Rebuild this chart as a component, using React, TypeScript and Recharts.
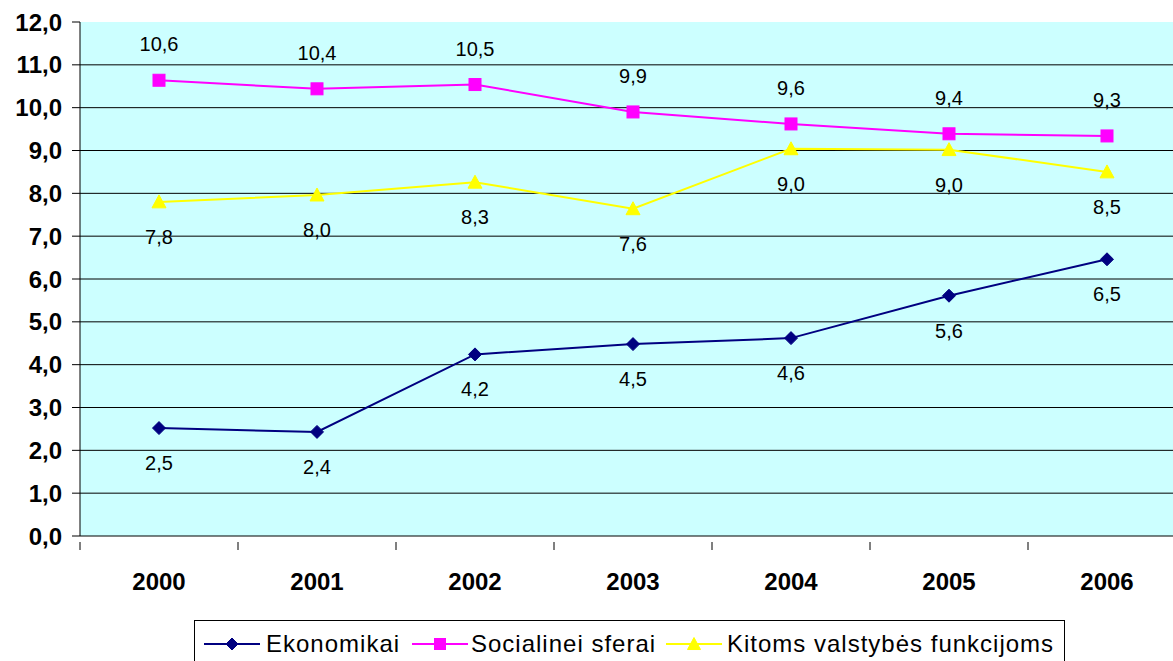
import React from 'react';
import { LineChart, Line, XAxis, YAxis, ReferenceLine, CartesianGrid } from 'recharts';

const years = ['2000', '2001', '2002', '2003', '2004', '2005', '2006'];
const ekonomikai = [2.52, 2.43, 4.24, 4.48, 4.62, 5.61, 6.46];
const socialinei = [10.64, 10.44, 10.54, 9.9, 9.62, 9.39, 9.34];
const kitoms = [7.8, 7.96, 8.26, 7.64, 9.04, 9.02, 8.5];
const yTicks = [0, 1, 2, 3, 4, 5, 6, 7, 8, 9, 10, 11, 12];
const gridValues = [1, 2, 3, 4, 5, 6, 7, 8, 9, 10, 11];
const seriesNames = ['Ekonomikai', 'Socialinei sferai', 'Kitoms valstybės funkcijoms'];

const data = years.map((y, i) => ({ year: y, eko: ekonomikai[i], soc: socialinei[i], kit: kitoms[i] }));

const FONT = '"Liberation Sans", Arial, sans-serif';
const NAVY = '#000080';
const MAGENTA = '#FF00FF';
const YELLOW = '#FFFF00';
const BG = '#CCFFFF';

const PLOT_LEFT = 80;
const PLOT_W = 1106;
const HALF_BAND = PLOT_W / years.length / 2;

const fmt = (v: number) => v.toFixed(1).replace('.', ',');

const Diamond = ({ cx, cy, s = 6.5 }: any) => (
  <path d={`M${cx},${cy - s} L${cx + s},${cy} L${cx},${cy + s} L${cx - s},${cy} Z`} fill={NAVY} stroke={NAVY} strokeWidth={1} />
);
const Square = ({ cx, cy, s = 6 }: any) => (
  <rect x={cx - s} y={cy - s} width={2 * s} height={2 * s} fill={MAGENTA} stroke={MAGENTA} strokeWidth={1} />
);
const Triangle = ({ cx, cy, s = 7 }: any) => (
  <path d={`M${cx},${cy - s} L${cx + s},${cy + s * 0.85} L${cx - s},${cy + s * 0.85} Z`} fill={YELLOW} stroke={YELLOW} strokeWidth={1} />
);

const makeLabel = (dy: number) => (props: any) => {
  const { x, y, value, index } = props;
  return (
    <text key={`l${index}`} x={x} y={y + dy} textAnchor="middle" dominantBaseline="central" fontFamily={FONT} fontSize={20} fill="#000">
      {fmt(value)}
    </text>
  );
};

const XTick = (props: any) => {
  const { x, y, payload } = props;
  return (
    <g>
      <line x1={x - HALF_BAND} x2={x - HALF_BAND} y1={y - 2} y2={y + 6} stroke="#000" strokeWidth={1} />
      <text x={x} y={y + 37} textAnchor="middle" dominantBaseline="central" fontFamily={FONT} fontSize={24} fontWeight="bold" fill="#000">
        {payload.value}
      </text>
    </g>
  );
};

const LegendItem = ({ left, textLeft, kind, label }: any) => (
  <>
    <svg style={{ position: 'absolute', left: left, top: 634 }} width={56} height={20}>
      <line x1={0} x2={56} y1={10} y2={10} stroke={kind === 0 ? NAVY : kind === 1 ? MAGENTA : YELLOW} strokeWidth={2} />
      {kind === 0 && <Diamond cx={28} cy={10} s={6} />}
      {kind === 1 && <Square cx={28} cy={10} s={5.5} />}
      {kind === 2 && <Triangle cx={28} cy={10} s={6.5} />}
    </svg>
    <div style={{ position: 'absolute', left: textLeft, top: 630, fontFamily: FONT, fontSize: 24, letterSpacing: 1.0, lineHeight: '28px', color: '#000', whiteSpace: 'nowrap' }}>
      {label}
    </div>
  </>
);

export default function App() {
  return (
    <div style={{ position: 'absolute', left: 0, top: 0, width: 1173, height: 661, overflow: 'hidden', background: '#fff' }}>
      <LineChart width={1190} height={661} data={data} margin={{ top: 22, right: 4, left: 0, bottom: 65 }}>
        <CartesianGrid fill={BG} fillOpacity={1} horizontal={false} vertical={false} stroke="none" />
        {gridValues.map((v) => (
          <ReferenceLine key={v} y={v} stroke="#000" strokeWidth={1} />
        ))}
        <XAxis
          dataKey="year"
          padding={{ left: HALF_BAND, right: HALF_BAND }}
          axisLine={{ stroke: '#000', strokeWidth: 1 }}
          tickLine={false}
          tick={<XTick />}
          height={60}
          interval={0}
        />
        <YAxis
          domain={[0, 12]}
          ticks={yTicks}
          width={PLOT_LEFT}
          tickFormatter={fmt}
          axisLine={{ stroke: '#000', strokeWidth: 1 }}
          tickLine={{ stroke: '#000' }}
          tickSize={8}
          tickMargin={10}
          tick={{ fontFamily: FONT, fontSize: 24, fontWeight: 'bold', fill: '#000' }}
          interval={0}
        />
        <Line
          dataKey="soc"
          name={seriesNames[1]}
          stroke={MAGENTA}
          strokeWidth={2}
          isAnimationActive={false}
          dot={(p: any) => <Square key={`s${p.index}`} cx={p.cx} cy={p.cy} />}
          label={makeLabel(-36)}
        />
        <Line
          dataKey="kit"
          name={seriesNames[2]}
          stroke={YELLOW}
          strokeWidth={2}
          isAnimationActive={false}
          dot={(p: any) => <Triangle key={`t${p.index}`} cx={p.cx} cy={p.cy} />}
          label={makeLabel(35)}
        />
        <Line
          dataKey="eko"
          name={seriesNames[0]}
          stroke={NAVY}
          strokeWidth={2}
          isAnimationActive={false}
          dot={(p: any) => <Diamond key={`d${p.index}`} cx={p.cx} cy={p.cy} />}
          label={makeLabel(35)}
        />
      </LineChart>
      <div style={{ position: 'absolute', left: 194, top: 620, width: 871, height: 50, border: '1px solid #000', boxSizing: 'border-box' }} />
      <LegendItem left={204} textLeft={266} kind={0} label={seriesNames[0]} />
      <LegendItem left={412} textLeft={471} kind={1} label={seriesNames[1]} />
      <LegendItem left={666} textLeft={727} kind={2} label={seriesNames[2]} />
    </div>
  );
}
